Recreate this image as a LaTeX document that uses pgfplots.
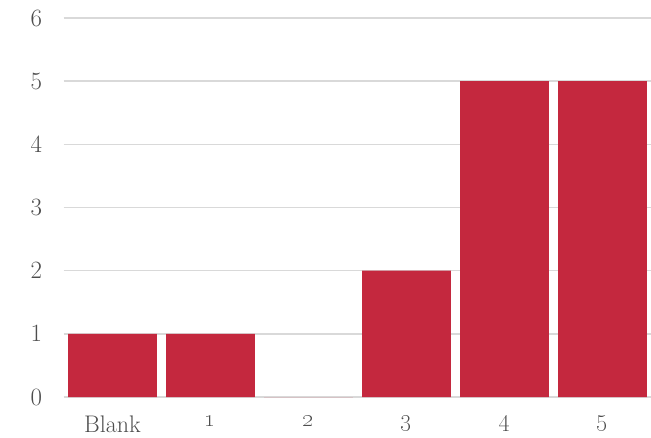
\documentclass[border=0pt]{standalone}
\usepackage{pgfplots}
\pgfplotsset{compat=1.18}
\definecolor{barred}{HTML}{C4283E}
\definecolor{gridgray}{HTML}{D9D9D9}
\definecolor{labelgray}{HTML}{4D4D4D}
\begin{document}
\begin{tikzpicture}
\begin{axis}[
  at={(0pt,0pt)}, anchor=south west,
  scale only axis,
  width=588pt, height=379pt,
  xmin=-0.5, xmax=5.5,
  ymin=0, ymax=6,
  axis line style={draw=none},
  major tick length=0pt,
  ymajorgrids,
  grid style={gridgray, line width=1.5pt},
  ytick={0,1,2,3,4,5,6},
  yticklabel={\oldstylenums{\pgfmathprintnumber{\tick}}},
  xtick={0,1,2,3,4,5},
  xticklabels={Blank,\oldstylenums{1},\oldstylenums{2},\oldstylenums{3},\oldstylenums{4},\oldstylenums{5}},
  tick label style={font=\fontsize{24}{27}\selectfont, text=labelgray},
  yticklabel style={anchor=east, xshift=-18pt},
  xticklabel style={anchor=north, yshift=-15pt},
  clip=false,
]
\addplot[ybar, bar width=0.906, fill=barred, draw=none]
  coordinates {(0,1) (1,1) (2,0) (3,2) (4,5) (5,5)};
\end{axis}
\pgfresetboundingbox
\path (-63.5pt,-40pt) rectangle (587.5pt,397pt);
\end{tikzpicture}
\end{document}
